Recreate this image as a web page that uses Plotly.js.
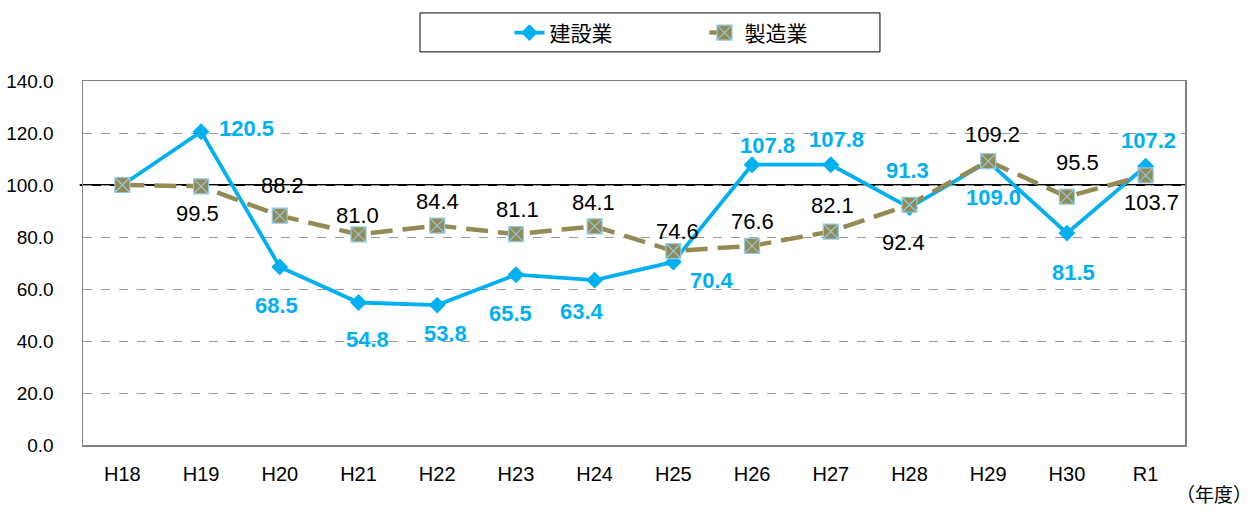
<!DOCTYPE html>
<html>
<head>
<meta charset="utf-8">
<script src="https://cdn.plot.ly/plotly-3.0.1.min.js"></script>
<style>html,body{margin:0;padding:0;background:#fff;}#chart{width:1252px;height:510px;}</style>
</head>
<body>
<div id="chart"></div>
<script>
// ---- data ----
const years = ["H18","H19","H20","H21","H22","H23","H24","H25","H26","H27","H28","H29","H30","R1"];
const construction = [100.0,120.5,68.5,54.8,53.8,65.5,63.4,70.4,107.8,107.8,91.3,109.0,81.5,107.2];
const manufacturing = [100.0,99.5,88.2,81.0,84.4,81.1,84.1,74.6,76.6,82.1,92.4,109.2,95.5,103.7];
const seriesNames = ["建設業","製造業"];
const yTicks = [0,20,40,60,80,100,120,140];

// ---- label offsets (screen px: dx right, dy down); null = no label ----
const conOffsets = [null,[45,-3],[-3,39],[9,37],[8,28],[-5,39],[-13,31],[39,19],[15,-19],[6,-25],[-2,-37],[5,36],[7,39],[3,-26]];
const manOffsets = [null,[-4,27],[3,-30],[-1,-19],[0,-24],[2,-25],[-1,-24],[4,-20],[0,-24],[2,-26],[-6,38],[4,-27],[11,-34],[6,27]];

const BLUE = "#00B0F0";
const OLIVE = "#948A54";
const NUMFONT = "Liberation Sans, Arial, sans-serif";
const JPFONT = "Noto Sans CJK JP, sans-serif";

const traces = [
  {
    x: years, y: construction, name: seriesNames[0], type: "scatter", mode: "lines+markers",
    line: {color: BLUE, width: 3.8},
    marker: {symbol: "diamond", size: 13, color: BLUE}
  },
  {
    x: years, y: manufacturing, name: seriesNames[1], type: "scatter", mode: "lines+markers",
    line: {color: OLIVE, width: 4.5, dash: "22px,10px"},
    marker: {symbol: "square-x", size: 15, color: OLIVE, line: {color: "#8ECBE6", width: 1.2}}
  }
];

const annotations = [];
years.forEach((c, i) => {
  const o1 = conOffsets[i];
  if (o1) annotations.push({x: c, y: construction[i], xref: "x", yref: "y", text: "<b>" + construction[i].toFixed(1) + "</b>",
    showarrow: false, xshift: o1[0], yshift: -o1[1], font: {family: NUMFONT, size: 22, color: BLUE}});
  const o2 = manOffsets[i];
  if (o2) annotations.push({x: c, y: manufacturing[i], xref: "x", yref: "y", text: manufacturing[i].toFixed(1),
    showarrow: false, xshift: o2[0], yshift: -o2[1], font: {family: NUMFONT, size: 22, color: "#000"}});
});
annotations.push({xref: "paper", yref: "paper", x: 1.026, y: -0.132, text: "（年度）", showarrow: false,
  xanchor: "center", yanchor: "middle", font: {family: JPFONT, size: 19, color: "#000"}});

const layout = {
  width: 1252, height: 510,
  margin: {l: 83, r: 67, t: 81, b: 65},
  paper_bgcolor: "#fff", plot_bgcolor: "#fff",
  showlegend: true,
  legend: {orientation: "h", x: 0.387, xanchor: "left", y: 1.132, yanchor: "middle",
    bgcolor: "rgba(0,0,0,0)", borderwidth: 0, entrywidth: 150,
    font: {family: JPFONT, size: 21, color: "#000"}},
  xaxis: {
    type: "category", categoryorder: "array", categoryarray: years, range: [-0.5, 13.5],
    showgrid: false, zeroline: false, showline: true, linecolor: "#808080", linewidth: 1.5, mirror: true,
    ticks: "", ticklabelstandoff: 10,
    tickfont: {family: NUMFONT, size: 20, color: "#000"}
  },
  yaxis: {
    range: [0, 140], tickvals: yTicks, ticktext: yTicks.map(v => v.toFixed(1)),
    showgrid: true, gridcolor: "#9a9a9a", griddash: "dash", gridwidth: 1,
    zeroline: false, showline: true, linecolor: "#808080", linewidth: 1.5, mirror: true,
    ticks: "", ticklabelstandoff: 24,
    tickfont: {family: NUMFONT, size: 19, color: "#000"}
  },
  shapes: [
    {type: "line", xref: "paper", yref: "y", x0: -0.003, x1: 1, y0: 100, y1: 100, line: {color: "#000", width: 2.2}, layer: "below"},
    {type: "rect", xref: "paper", yref: "paper", x0: 0.3058, x1: 0.7232, y0: 1.080, y1: 1.187, line: {color: "#000", width: 1}, fillcolor: "rgba(0,0,0,0)"}
  ],
  annotations: annotations
};

Plotly.newPlot("chart", traces, layout, {displayModeBar: false, staticPlot: true});
</script>
</body>
</html>
